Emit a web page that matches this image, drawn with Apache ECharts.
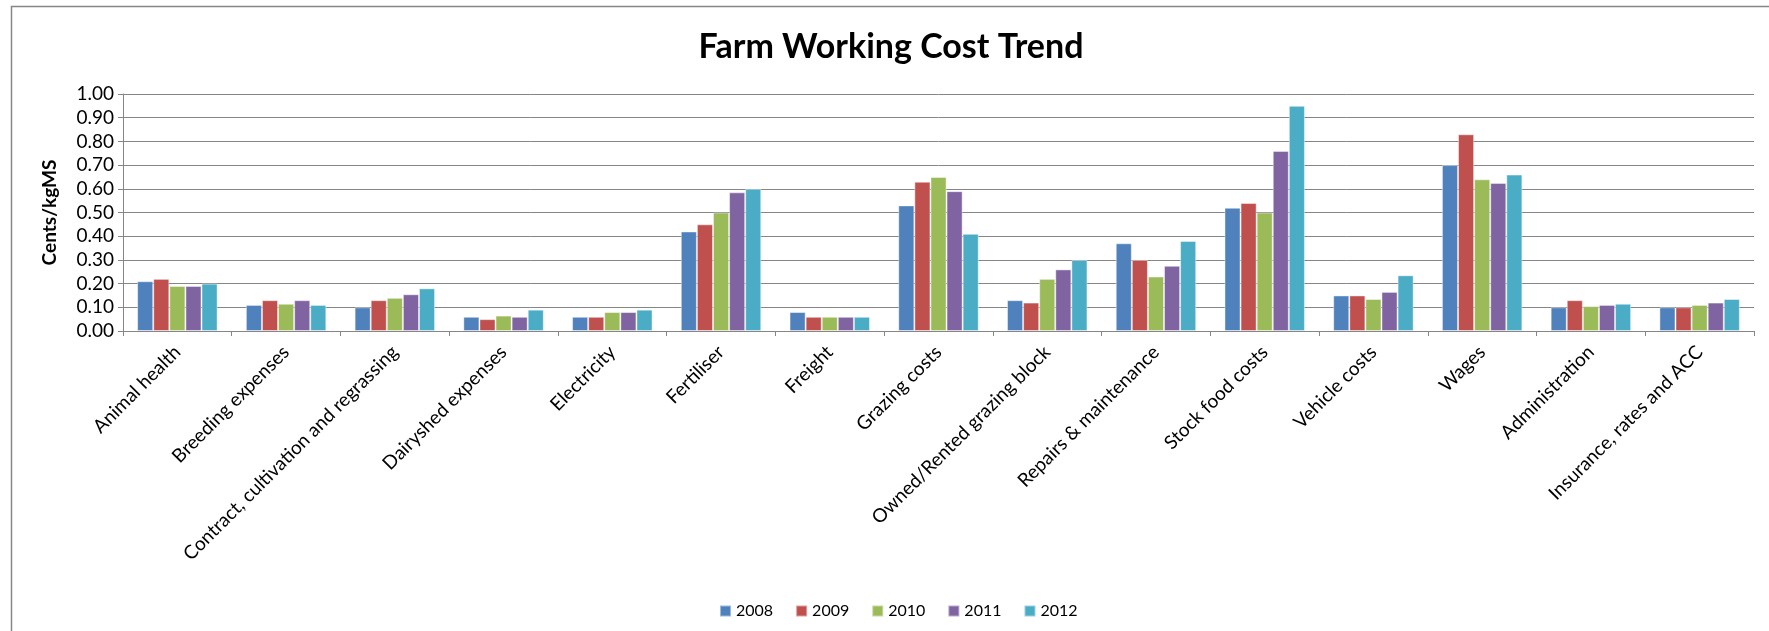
<!DOCTYPE html>
<html>
<head>
<meta charset="utf-8">
<script src="https://cdn.jsdelivr.net/npm/echarts@6/dist/echarts.min.js"></script>
<style>
html, body { margin: 0; padding: 0; background: #fff; }
#main { width: 1769px; height: 631px; }
</style>
</head>
<body>
<div id="main"></div>
<script>
var categories = ['Animal health', 'Breeding expenses', 'Contract, cultivation and regrassing',
    'Dairyshed expenses', 'Electricity', 'Fertiliser', 'Freight', 'Grazing costs',
    'Owned/Rented grazing block', 'Repairs & maintenance', 'Stock food costs',
    'Vehicle costs', 'Wages', 'Administration', 'Insurance, rates and ACC'];
var years = ['2008', '2009', '2010', '2011', '2012'];

var v2008 = [0.21, 0.11, 0.10, 0.06, 0.06, 0.42, 0.08, 0.53, 0.13, 0.37, 0.52, 0.15, 0.70, 0.10, 0.10];
var v2009 = [0.22, 0.13, 0.13, 0.05, 0.06, 0.45, 0.06, 0.63, 0.12, 0.30, 0.54, 0.15, 0.83, 0.13, 0.10];
var v2010 = [0.19, 0.115, 0.14, 0.065, 0.08, 0.50, 0.06, 0.65, 0.22, 0.23, 0.50, 0.135, 0.64, 0.105, 0.11];
var v2011 = [0.19, 0.13, 0.155, 0.06, 0.08, 0.585, 0.06, 0.59, 0.26, 0.275, 0.76, 0.165, 0.625, 0.11, 0.12];
var v2012 = [0.20, 0.11, 0.18, 0.09, 0.09, 0.60, 0.06, 0.41, 0.30, 0.38, 0.95, 0.235, 0.66, 0.115, 0.135];
var values = [v2008, v2009, v2010, v2011, v2012];
var colors = ['#4F81BD', '#C0504D', '#9BBB59', '#8064A2', '#4BACC6'];

var font = 'Lato, "Open Sans", sans-serif';
var chart = echarts.init(document.getElementById('main'));

var series = years.map(function (y, i) {
    return {
        name: y,
        type: 'bar',
        data: values[i],
        barGap: '0%',
        barCategoryGap: '26%',
        itemStyle: { color: colors[i], borderColor: 'rgba(255,255,255,0.45)', borderWidth: 1 }
    };
});

var option = {
    backgroundColor: '#fff',
    animation: false,
    color: colors,
    title: {
        text: 'Farm Working Cost Trend',
        left: 886,
        textAlign: 'center',
        top: 25,
        textStyle: { fontFamily: font, fontSize: 34, fontWeight: 'bold', color: '#000' }
    },
    legend: {
        data: years,
        left: 714,
        top: 598,
        icon: 'rect',
        itemWidth: 11,
        itemHeight: 11,
        itemGap: 22,
        textStyle: { fontFamily: font, fontSize: 16, color: '#000' }
    },
    grid: { left: 123, right: 15, top: 94, bottom: 300, containLabel: false },
    xAxis: {
        type: 'category',
        data: categories,
        axisLine: { lineStyle: { color: '#868686', width: 1 } },
        axisTick: { show: true, length: 5, lineStyle: { color: '#868686' } },
        axisLabel: {
            rotate: 45,
            interval: 0,
            margin: 18,
            fontFamily: font,
            fontSize: 19,
            color: '#000'
        }
    },
    yAxis: {
        type: 'value',
        min: 0,
        max: 1,
        interval: 0.1,
        name: 'Cents/kgMS',
        nameLocation: 'middle',
        nameRotate: 90,
        nameGap: 64,
        nameTextStyle: { fontFamily: font, fontSize: 19, fontWeight: 'bold', color: '#000' },
        axisLine: { show: true, lineStyle: { color: '#868686', width: 1 } },
        axisTick: { show: true, length: 5, lineStyle: { color: '#868686' } },
        splitLine: { lineStyle: { color: '#868686', width: 1 } },
        axisLabel: {
            fontFamily: font,
            fontSize: 19,
            color: '#000',
            margin: 9,
            formatter: function (v) { return v.toFixed(2); }
        }
    },
    graphic: [{
        type: 'rect',
        shape: { x: 11.5, y: 6.5, width: 1800, height: 700 },
        style: { fill: 'none', stroke: '#868686', lineWidth: 1.5 },
        silent: true,
        z: 100
    }],
    series: series
};

chart.setOption(option);
window.addEventListener('resize', function () { chart.resize(); });
</script>
</body>
</html>
